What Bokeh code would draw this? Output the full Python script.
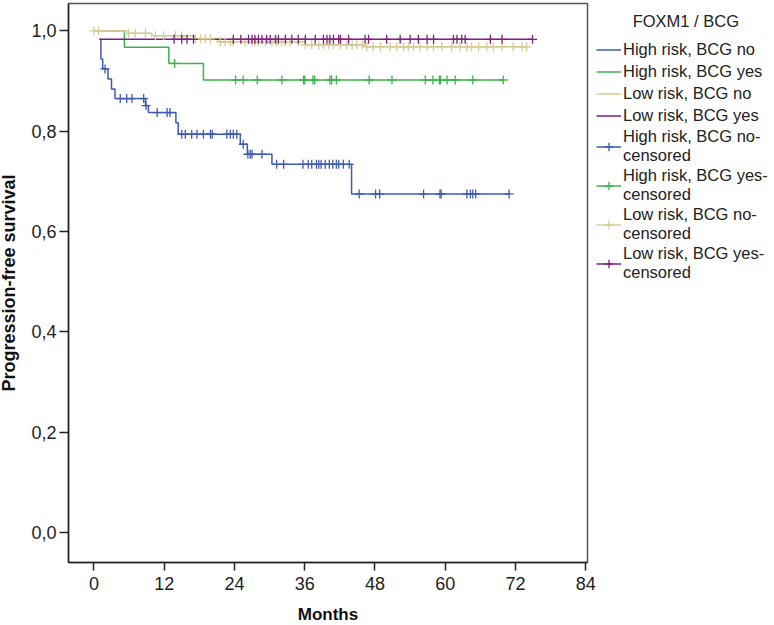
import numpy as np
from bokeh.plotting import figure
from bokeh.models import Range1d, FixedTicker, Legend, LegendItem
from bokeh.embed import file_html
from bokeh.resources import INLINE

# ---------------- data (months, survival) ----------------
blue_times = [1.08, 1.2, 1.5, 2.4, 3.0, 3.6, 8.8, 9.3, 14.0, 14.4, 25.0, 26.2, 30.4, 44.0, 70.9]
blue_surv = [0.983, 0.944, 0.924, 0.904, 0.884, 0.865, 0.851, 0.837, 0.817, 0.794, 0.774, 0.754, 0.734, 0.675, 0.675]
blue_censor = [1.9, 4.5, 5.6, 6.5, 8.5, 8.9, 10.8, 12.5, 13.0, 15.0, 15.6, 16.7, 17.6, 18.7, 19.9, 20.2,
               22.7, 23.3, 23.8, 24.4, 25.5, 26.3, 26.7, 27.0, 28.7, 31.2, 32.4, 35.7, 36.6, 37.2, 38.0,
               38.4, 38.8, 39.5, 40.2, 40.8, 41.4, 41.8, 42.6, 43.6, 45.3, 48.1, 48.8, 56.3, 59.1, 59.3,
               63.7, 64.3, 64.7, 65.2, 70.9]

green_times = [1.4, 5.2, 12.8, 18.7, 69.9]
green_surv = [1.0, 0.967, 0.935, 0.902, 0.902]
green_censor = [13.8, 24.2, 25.5, 27.9, 32.1, 35.8, 36.0, 37.4, 37.7, 40.3, 40.6, 41.4, 47.0, 50.9,
                56.6, 57.9, 59.0, 59.2, 60.3, 61.7, 64.7, 69.9]

yellow_times = [0.0, 5.9, 9.9, 17.3, 21.2, 36.0, 46.0, 73.9]
yellow_surv = [1.0, 0.995, 0.99, 0.984, 0.978, 0.972, 0.968, 0.968]
yellow_censor = [0.0, 0.8, 5.9, 7.05, 8.8, 10.5, 11.9, 13.9, 15.0, 17.3, 18.2, 19.0, 19.9, 21.6, 22.4,
                 23.3, 23.8, 25.8, 27.0, 27.5, 28.1, 29.3, 30.4, 31.2, 32.1, 32.7, 33.5, 34.9, 36.1,
                 37.2, 38.4, 39.2, 40.1, 40.9, 42.1, 43.2, 44.1, 44.9, 45.8, 46.6, 47.7, 48.9, 50.6,
                 51.7, 52.9, 53.7, 54.6, 55.7, 56.9, 58.0, 59.4, 61.1, 62.5, 63.7, 64.5, 65.7, 67.1,
                 68.2, 69.7, 71.6, 73.1, 73.9]

purple_times = [0.9, 74.9]
purple_surv = [0.983, 0.983]
purple_censor = [13.7, 15.0, 15.9, 17.0, 23.8, 25.1, 26.4, 27.0, 27.5, 28.1, 28.7, 29.5, 30.1, 31.0,
                 31.5, 32.7, 33.8, 34.9, 36.1, 37.8, 39.2, 39.8, 40.3, 40.9, 41.8, 42.1, 43.5, 46.3,
                 46.9, 50.0, 52.3, 54.0, 55.4, 56.9, 58.0, 61.4, 62.0, 62.8, 63.4, 67.7, 69.7, 74.9]

group_labels = ["High risk, BCG no", "High risk, BCG yes", "Low risk, BCG no", "Low risk, BCG yes"]
censor_suffix = "-\ncensored"
legend_title = "FOXM1 / BCG"

x_ticks = [0, 12, 24, 36, 48, 60, 72, 84]
x_tick_labels = ["0", "12", "24", "36", "48", "60", "72", "84"]
y_ticks = [0.0, 0.2, 0.4, 0.6, 0.8, 1.0]
y_tick_labels = ["0,0", "0,2", "0,4", "0,6", "0,8", "1,0"]

colors = ["#3F5BB0", "#3CB44B", "#D4CB94", "#7E1F7E"]


def censor_y(times, surv, ct):
    idx = np.searchsorted(np.array(times), np.array(ct), side="right") - 1
    idx = np.clip(idx, 0, len(surv) - 1)
    return list(np.array(surv)[idx])


p = figure(frame_width=519, frame_height=559,
           x_range=Range1d(-4.34, 84.29), y_range=Range1d(-0.0594, 1.0544),
           output_backend="svg", toolbar_location=None,
           min_border_left=60, min_border_top=3, min_border_bottom=60, min_border_right=0,
           margin=(0, 0, -8, -4))
p.xgrid.visible = False
p.ygrid.visible = False
p.outline_line_color = "#555555"
p.outline_line_width = 1.5

series = [
    (blue_times, blue_surv, blue_censor),
    (green_times, green_surv, green_censor),
    (yellow_times, yellow_surv, yellow_censor),
    (purple_times, purple_surv, purple_censor),
]
steps = []
crosses = []
for (t, s, c), col in zip(series, colors):
    r = p.step(x=t, y=s, mode="after", line_color=col, line_width=1.5)
    steps.append(r)
for (t, s, c), col in zip(series, colors):
    cr = p.scatter(x=c, y=censor_y(t, s, c), marker="cross", size=9,
                   line_color=col, line_width=1.3)
    crosses.append(cr)

items = []
for lab, r in zip(group_labels, steps):
    items.append(LegendItem(label=lab, renderers=[r]))
for lab, r, cr in zip(group_labels, steps, crosses):
    items.append(LegendItem(label=lab + censor_suffix, renderers=[r, cr]))

legend = Legend(items=items, title="\u00a0" * 8 + legend_title, location="top_left",
                margin=9, padding=0, spacing=1,
                glyph_width=25, glyph_height=21, label_height=21, label_standoff=2,
                label_text_font="Liberation Sans", label_text_font_size="16.5px",
                label_text_color="#222222", label_text_line_height=1.05,
                title_text_font="Liberation Sans", title_text_font_size="16.5px",
                title_text_font_style="normal", title_text_color="#222222",
                title_standoff=8,
                border_line_color=None, background_fill_alpha=0)
p.add_layout(legend, "right")

for ax in (p.xaxis[0], p.yaxis[0]):
    ax.axis_line_color = "#222222"
    ax.axis_line_width = 1.5
    ax.major_tick_line_color = "#222222"
    ax.major_tick_line_width = 1.5
    ax.major_tick_in = 0
    ax.minor_tick_line_color = None
    ax.major_label_text_font = "Liberation Sans Narrow, Liberation Sans"
    ax.major_label_text_font_size = "18px"
    ax.major_label_text_color = "#222222"
    ax.axis_label_text_font = "Liberation Sans"
    ax.axis_label_text_font_style = "bold"
    ax.axis_label_text_color = "#111111"

p.xaxis.ticker = FixedTicker(ticks=x_ticks)
p.xaxis.major_label_overrides = {t: l for t, l in zip(x_ticks, x_tick_labels)}
p.xaxis.major_tick_out = 8
p.xaxis.major_label_standoff = 6
p.xaxis.axis_label = "Months"
p.xaxis.axis_label_text_font_size = "17px"
p.xaxis.axis_label_standoff = 12

p.yaxis.ticker = FixedTicker(ticks=y_ticks)
p.yaxis.major_label_overrides = {t: l for t, l in zip(y_ticks, y_tick_labels)}
p.yaxis.major_tick_out = 9
p.yaxis.major_label_standoff = 3
p.yaxis.axis_label = "Progression-free survival"
p.yaxis.axis_label_text_font_size = "18px"
p.yaxis.axis_label_standoff = 9

open("out.html", "w").write(file_html(p, INLINE))
